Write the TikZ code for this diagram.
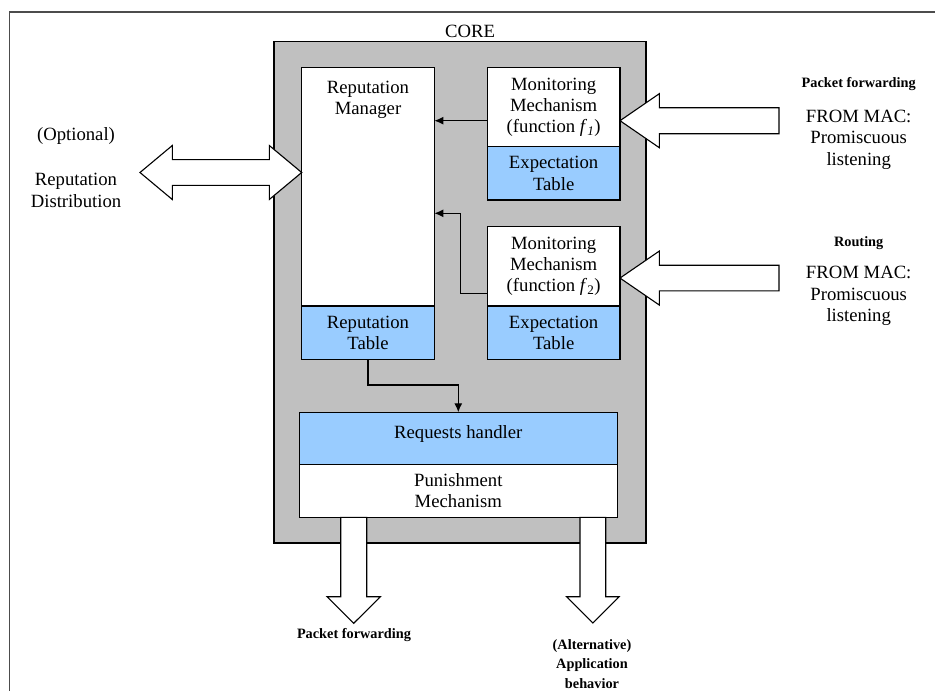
\documentclass[tikz,border=0pt]{standalone}
\usepackage{fontspec}
\setmainfont{Liberation Serif}
\usepackage{xcolor}
\usepackage{tikz}
\usetikzlibrary{calc}
\usetikzlibrary{arrows.meta}
\usetikzlibrary{positioning}
\definecolor{coregray}{HTML}{C0C0C0}
\definecolor{tableblue}{HTML}{99CCFF}
\tikzset{>=latex}
\tikzstyle{box} = [rectangle, draw=black, line width=1.3pt, fill=white, inner sep=0, outer sep=0, align=center, font=\fontsize{18.7}{21.3}\selectfont]
\tikzstyle{tab} = [box, fill=tableblue]
\tikzstyle{txt} = [draw=none, inner sep=0, align=center, font=\fontsize{18.7}{21.3}\selectfont]
\tikzstyle{btxt} = [draw=none, inner sep=0, align=center, font=\fontsize{14.3}{19.3}\selectfont\bfseries]
\tikzstyle{conn} = [-{Latex[length=9pt,width=8pt]}, draw=black, line width=1.3pt]
\tikzstyle{fat} = [draw=black, fill=white, line width=1.1pt, line join=miter]

\begin{document}
\begin{tikzpicture}[x=1pt, y=-1pt]
\useasboundingbox (0,0) rectangle (935,691);
\draw [draw=black!70, line width=1.2pt] (9.5,691) -- (9.5,12) -- (935,12);
\node [txt] (corelbl) at (470,31) {CORE};
\node [rectangle, draw=black, line width=1.3pt, fill=coregray, minimum width=372pt, minimum height=501.3pt] (core) at (460,292.35) {};
\node [box, minimum width=132.6pt, minimum height=238.3pt] (rm) at (368,186.85) {};
\node [txt, below=13pt of rm.north] (rmlbl) {Reputation\\Manager};
\node [tab, minimum width=132.6pt, minimum height=53.3pt, below=0pt of rm] (rtab) {Reputation\\Table};
\node [box, minimum width=132.7pt, minimum height=79pt] (mon1) at (553.65,107.2) {Monitoring\\Mechanism\\(function \textit{f}\textsubscript{\textit{1}})};
\node [tab, minimum width=132.7pt, minimum height=53.3pt, below=0pt of mon1] (exp1) {Expectation\\Table};
\node [box, minimum width=132.7pt, minimum height=79.3pt] (mon2) at (553.65,266.35) {Monitoring\\Mechanism\\(function \textit{f}\textsubscript{2})};
\node [tab, minimum width=132.7pt, minimum height=53.3pt, below=0pt of mon2] (exp2) {Expectation\\Table};
\node [tab, minimum width=318pt, minimum height=52pt] (req) at (458.3,438.3) {};
\node [txt, below=12.7pt of req.north] (reqlbl) {Requests handler};
\node [box, minimum width=318pt, minimum height=53pt, below=0pt of req] (pun) {Punishment\\Mechanism};

\coordinate (m1out) at ([yshift=-13.5pt]mon1.west);
\draw [conn] (m1out) -- (m1out -| rm.east);
\coordinate (m2out) at ([yshift=-27pt]mon2.west);
\coordinate (m2bend) at (460.7,213.3);
\draw [conn] (m2out) -| (m2bend) -- (m2bend -| rm.east);
\draw [conn] (rtab.south) -- ++(0,25.7) -| (req.north);

\coordinate (in1tip) at ([yshift=-13.5pt]mon1.east);
\draw [fat] (in1tip) -- ++(39.3,-27) -- ++(0,14) -- ++(119.7,0) -- ++(0,26) -- ++(-119.7,0) -- ++(0,14) -- cycle;
\coordinate (in2tip) at ([yshift=-11.7pt]mon2.east);
\draw [fat] (in2tip) -- ++(39.3,-27) -- ++(0,14.15) -- ++(119.7,0) -- ++(0,25.7) -- ++(-119.7,0) -- ++(0,14.15) -- cycle;
\coordinate (dtip) at ([yshift=14.35pt]rm.west);
\draw [fat] (dtip) -- ++(-32.4,-27) -- ++(0,14.15) -- ++(-97,0) -- ++(0,-14.15) -- ++(-32.3,27) -- ++(32.3,27) -- ++(0,-14.15) -- ++(97,0) -- ++(0,14.15) -- cycle;
\coordinate (d1top) at ([xshift=-104.6pt]pun.south);
\draw [fat] (d1top) -- ++(-13,0) -- ++(0,79.4) -- ++(-13.7,0) -- ++(26.7,26.6) -- ++(26.7,-26.6) -- ++(-13.7,0) -- ++(0,-79.4) -- cycle;
\coordinate (d2top) at ([xshift=134.55pt]pun.south);
\draw [fat] (d2top) -- ++(-12.85,0) -- ++(0,79.4) -- ++(-13.45,0) -- ++(26.3,26.3) -- ++(26.3,-26.3) -- ++(-13.45,0) -- ++(0,-79.4) -- cycle;

\node [btxt] (pfin) at (858.7,84) {Packet forwarding};
\node [txt] (mac1) at (858.7,139.7) {FROM MAC:\\Promiscuous\\listening};
\node [btxt] (rtin) at (858.7,242.7) {Routing};
\node [txt] (mac2) at (858.7,296) {FROM MAC:\\Promiscuous\\listening};
\node [txt] (optl) at (76,136) {(Optional)};
\node [txt] (rdist) at (76,190.5) {Reputation\\Distribution};
\node [btxt] (pfout) at (354,635) {Packet forwarding};
\node [btxt] (altout) at (592,664) {(Alternative)\\Application\\behavior};
\end{tikzpicture}
\end{document}
